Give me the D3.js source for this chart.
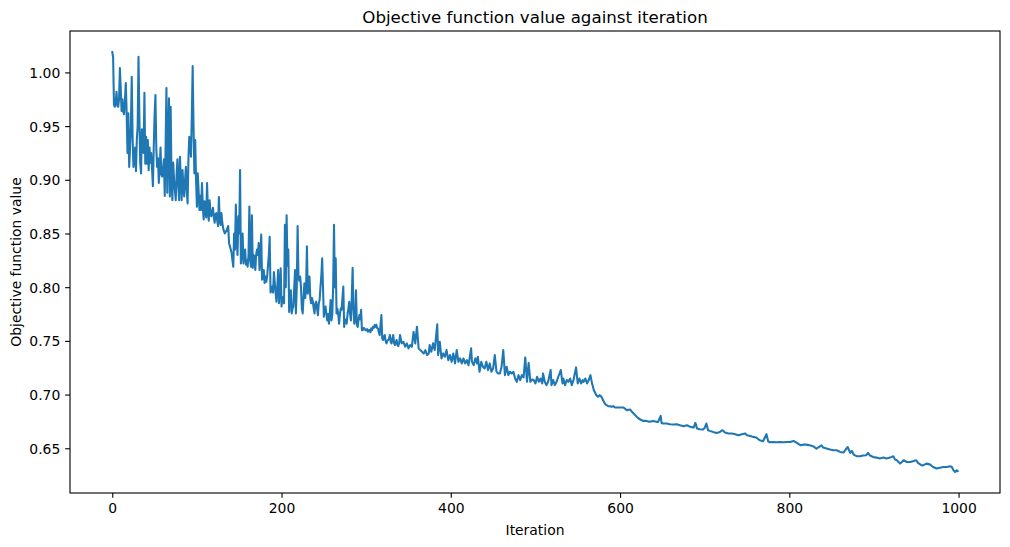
<!DOCTYPE html>
<html>
<head>
<meta charset="utf-8">
<script src="https://cdn.jsdelivr.net/npm/d3@7/dist/d3.min.js"></script>
<style>
  html, body { margin: 0; padding: 0; background: #fff; }
  svg text { font-family: "DejaVu Sans", sans-serif; fill: #000; }
</style>
</head>
<body>
<svg id="chart" width="1010" height="547"></svg>
<script>
// ---- data ----
const iterations = [
  0,1,2,3,4,5,6,7,8,9,10,11,12,13,14,15,16,17,18,19,
  20,21,22,23,24,25,26,27,28,29,30,31,32,33,34,35,36,37,38,39,
  40,41,42,43,44,45,46,47,48,49,50,51,52,53,54,55,56,57,58,59,
  60,61,62,63,64,65,66,67,68,69,70,71,72,73,74,75,76,77,78,79,
  80,81,82,83,84,85,86,87,88,89,90,91,92,93,94,95,96,97,98,99,
  100,101,102,103,104,105,106,107,108,109,110,111,112,113,114,115,116,117,118,119,
  120,121,122,123,124,125,126,127,128,129,130,131,132,133,134,135,136,137,138,139,
  140,141,142,143,144,145,146,147,148,149,150,151,152,153,154,155,156,157,158,159,
  160,161,162,163,164,165,166,167,168,169,170,171,172,173,174,175,176,177,178,179,
  180,181,182,183,184,185,186,187,188,189,190,191,192,193,194,195,196,197,198,199,
  200,201,202,203,204,205,206,207,208,209,210,211,212,213,214,215,216,217,218,219,
  220,221,222,223,224,225,226,227,228,229,230,231,232,233,234,235,236,237,238,239,
  240,241,242,243,244,245,246,247,248,249,250,251,252,253,254,255,256,257,258,259,
  260,261,262,263,264,265,266,267,268,269,270,271,272,273,274,275,276,277,278,279,
  280,281,282,283,284,285,286,287,288,289,290,291,292,293,294,295,296,297,298,299,
  300,301,302,303,304,305,306,307,308,309,310,311,312,313,314,315,316,317,318,319,
  320,321,322,323,324,325,326,327,328,329,330,331,332,333,334,335,336,337,338,339,
  340,342,344,346,348,350,352,354,356,358,360,362,364,366,368,370,372,374,375,377,
  379,381,384,385,387,389,391,393,395,397,399,401,403,405,407,409,411,413,415,417,
  419,421,424,425,427,429,431,432,434,436,438,440,442,444,446,448,450,452,454,456,
  458,460,462,464,466,468,470,472,474,476,478,480,482,484,486,488,490,492,494,496,
  498,500,502,504,506,508,509,511,513,515,518,519,521,523,525,527,530,532,533,535,
  537,539,541,543,545,548,550,552,554,556,557,559,561,563,565,567,568,569,570,572,
  574,576,578,580,582,584,586,588,590,592,594,596,600,604,608,612,614,616,618,620,
  622,624,626,627,631,635,639,643,645,648,649,651,655,659,663,667,671,675,679,683,
  687,689,691,694,698,700,702,704,706,710,714,718,721,724,728,732,736,740,744,748,
  750,754,757,761,765,769,773,775,777,781,785,789,793,797,801,805,809,813,817,820,
  824,828,832,838,840,844,848,852,856,860,864,869,872,874,876,880,884,887,891,893,
  895,899,903,907,911,915,919,923,925,927,931,935,939,943,947,950,952,956,958,962,
  966,970,974,978,982,986,990,992,994,996,998,999
];

const objectiveValues = [
  1.019,1.014,0.970,0.968,0.971,0.982,0.969,0.968,0.975,1.004,0.985,0.964,0.975,0.963,0.961,0.975,0.990,0.962,0.925,0.962,
  0.912,0.930,0.950,0.996,0.940,0.912,0.919,0.930,0.908,0.937,0.950,1.0145,0.960,0.916,0.906,0.947,0.930,0.925,0.981,0.915,
  0.940,0.915,0.937,0.909,0.930,0.916,0.925,0.910,0.894,0.930,0.960,0.979,0.930,0.912,0.920,0.897,0.910,0.930,0.905,0.903,
  0.910,0.919,0.885,0.930,0.9855,0.888,0.930,0.976,0.8845,0.968,0.900,0.881,0.916,0.900,0.890,0.881,0.905,0.919,0.895,0.881,
  0.9215,0.900,0.881,0.909,0.895,0.8845,0.900,0.912,0.890,0.878,0.920,0.940,0.935,0.9215,0.960,1.006,0.950,0.906,0.937,0.900,
  0.875,0.906,0.890,0.872,0.885,0.872,0.897,0.875,0.863,0.880,0.870,0.865,0.897,0.872,0.862,0.881,0.870,0.866,0.870,0.874,
  0.865,0.860,0.868,0.869,0.862,0.857,0.884,0.862,0.858,0.869,0.860,0.855,0.852,0.850,0.852,0.852,0.855,0.857,0.841,0.838,
  0.835,0.832,0.825,0.819,0.850,0.835,0.877,0.844,0.830,0.866,0.850,0.909,0.822,0.835,0.850,0.822,0.830,0.835,0.821,0.825,
  0.819,0.830,0.875,0.825,0.819,0.867,0.818,0.830,0.8285,0.816,0.830,0.835,0.830,0.841,0.816,0.830,0.849,0.807,0.810,0.816,
  0.804,0.810,0.805,0.810,0.820,0.830,0.847,0.795,0.800,0.8005,0.795,0.814,0.804,0.795,0.7865,0.800,0.816,0.785,0.800,0.8176,
  0.782,0.790,0.791,0.785,0.858,0.800,0.867,0.820,0.835,0.777,0.790,0.797,0.7756,0.780,0.782,0.800,0.816,0.7756,0.800,0.857,
  0.810,0.806,0.810,0.800,0.780,0.7756,0.790,0.8036,0.790,0.800,0.838,0.794,0.800,0.810,0.790,0.785,0.790,0.7865,0.780,0.7756,
  0.785,0.7865,0.780,0.774,0.785,0.788,0.800,0.810,0.827,0.800,0.7725,0.780,0.782,0.775,0.769,0.775,0.766,0.775,0.788,0.769,
  0.775,0.800,0.858,0.800,0.827,0.7756,0.780,0.775,0.766,0.775,0.780,0.779,0.790,0.8005,0.763,0.770,0.769,0.766,0.775,0.780,
  0.7865,0.775,0.769,0.790,0.818,0.780,0.766,0.770,0.797,0.765,0.763,0.770,0.774,0.770,0.779,0.760,0.760,0.762,0.7616,0.760,
  0.760,0.761,0.7585,0.760,0.760,0.758,0.7616,0.760,0.763,0.762,0.7647,0.763,0.765,0.762,0.7616,0.758,0.7554,0.765,0.774,0.752,
  0.7508,0.754,0.7554,0.750,0.7477,0.750,0.7508,0.752,0.7554,0.749,0.7477,0.752,0.7554,0.748,0.7461,0.749,0.7508,0.746,0.7452,0.748,
  0.7554,0.7477,0.7492,0.7445,0.7477,0.7430,0.7461,0.7445,0.7585,0.7477,0.7632,0.7430,0.7414,0.7399,0.7383,0.7414,0.7368,0.7383,0.7461,0.7399,
  0.7477,0.7414,0.7654,0.7368,0.7492,0.7337,0.7383,0.7352,0.7414,0.7321,0.7368,0.7305,0.7383,0.7290,0.7414,0.7305,0.7337,0.7290,0.7337,0.7290,
  0.7321,0.7274,0.7430,0.7305,0.7274,0.7337,0.7290,0.7352,0.7212,0.7305,0.7259,0.7243,0.7305,0.7228,0.7290,0.7212,0.7243,0.7368,0.7212,0.7197,
  0.7197,0.7259,0.7414,0.7181,0.7259,0.7181,0.7212,0.7197,0.7212,0.7150,0.7119,0.7181,0.7135,0.7181,0.7160,0.7346,0.7119,0.7296,0.7119,0.7140,
  0.7135,0.7104,0.7166,0.7119,0.7150,0.7104,0.7197,0.7119,0.7088,0.7119,0.7228,0.7088,0.7135,0.7088,0.7119,0.7166,0.7228,0.7104,0.7150,0.7088,
  0.7135,0.7119,0.7150,0.7088,0.7135,0.7253,0.7104,0.7150,0.7104,0.7135,0.7119,0.7150,0.7104,0.7135,0.7181,0.7100,0.7072,0.7041,0.7026,0.6994,
  0.6979,0.6994,0.6979,0.6948,0.6917,0.6901,0.6892,0.6892,0.6886,0.6892,0.6880,0.6880,0.6880,0.6880,0.6855,0.6861,0.6839,0.6824,0.6808,0.6792,
  0.6777,0.6768,0.6761,0.6755,0.6755,0.6746,0.6755,0.6746,0.6746,0.6801,0.6736,0.6730,0.6730,0.6724,0.6721,0.6724,0.6714,0.6705,0.6714,0.6699,
  0.6693,0.6736,0.6684,0.6677,0.6674,0.6689,0.6730,0.6668,0.6662,0.6652,0.6643,0.6652,0.6668,0.6646,0.6637,0.6637,0.6631,0.6621,0.6631,0.6637,
  0.6621,0.6615,0.6606,0.6600,0.6575,0.6565,0.6631,0.6565,0.6556,0.6559,0.6556,0.6559,0.6556,0.6559,0.6559,0.6568,0.6550,0.6528,0.6534,0.6534,
  0.6528,0.6519,0.6497,0.6528,0.6506,0.6497,0.6488,0.6481,0.6481,0.6466,0.6460,0.6512,0.6457,0.6475,0.6441,0.6425,0.6425,0.6432,0.6435,0.6457,
  0.6435,0.6419,0.6413,0.6404,0.6413,0.6404,0.6413,0.6425,0.6394,0.6388,0.6357,0.6388,0.6372,0.6372,0.6382,0.6388,0.6363,0.6342,0.6341,0.6357,
  0.6350,0.6326,0.6311,0.6319,0.6326,0.6326,0.6332,0.6326,0.6295,0.6279,0.6295,0.6288
];

const xTickValues = [0, 200, 400, 600, 800, 1000];
const yTickValues = [0.65, 0.70, 0.75, 0.80, 0.85, 0.90, 0.95, 1.00];
const titleText = "Objective function value against iteration";
const xLabelText = "Iteration";
const yLabelText = "Objective function value";

// ---- layout ----
const svg = d3.select("#chart");
const plot = { left: 70, right: 1000, top: 31, bottom: 493 };
const tickLen = 4.86, tickPad = 4.86;
const lineColor = "#1f77b4";

const points = iterations.map((it, i) => ({ it, v: objectiveValues[i] }));

// matplotlib-style 5% margins
const [xMin, xMax] = d3.extent(iterations);
const [yMin, yMax] = d3.extent(objectiveValues);
const xPad = (xMax - xMin) * 0.05, yPad = (yMax - yMin) * 0.05;

const x = d3.scaleLinear().domain([xMin - xPad, xMax + xPad]).range([plot.left, plot.right]);
const y = d3.scaleLinear().domain([yMin - yPad, yMax + yPad]).range([plot.bottom, plot.top]);

// line
const line = d3.line().x(d => x(d.it)).y(d => y(d.v));
svg.append("path")
  .datum(points)
  .attr("d", line)
  .attr("fill", "none")
  .attr("stroke", lineColor)
  .attr("stroke-width", 2.08)
  .attr("stroke-linejoin", "round")
  .attr("stroke-linecap", "square");

// axes
const xAxis = d3.axisBottom(x).tickValues(xTickValues).tickFormat(d3.format("d"))
  .tickSizeInner(tickLen).tickSizeOuter(0).tickPadding(tickPad);
const yAxis = d3.axisLeft(y).tickValues(yTickValues).tickFormat(d3.format(".2f"))
  .tickSizeInner(tickLen).tickSizeOuter(0).tickPadding(tickPad);

const gx = svg.append("g").attr("transform", `translate(0,${plot.bottom})`).call(xAxis);
const gy = svg.append("g").attr("transform", `translate(${plot.left},0)`).call(yAxis);
[gx, gy].forEach(g => {
  g.select(".domain").remove();
  g.selectAll(".tick line").attr("stroke", "#000").attr("stroke-width", 1.11);
  g.selectAll(".tick text").attr("font-size", "13.9px").attr("font-family", "DejaVu Sans").attr("fill", "#000");
});
gy.selectAll(".tick text").attr("dy", "0.36em");

// spines
svg.append("rect")
  .attr("x", plot.left).attr("y", plot.top)
  .attr("width", plot.right - plot.left).attr("height", plot.bottom - plot.top)
  .attr("fill", "none").attr("stroke", "#000").attr("stroke-width", 1.11);

// title & labels
svg.append("text")
  .attr("x", (plot.left + plot.right) / 2).attr("y", 23)
  .attr("text-anchor", "middle").attr("font-size", "16.67px")
  .text(titleText);

svg.append("text")
  .attr("x", (plot.left + plot.right) / 2).attr("y", 535)
  .attr("text-anchor", "middle").attr("font-size", "13.9px")
  .text(xLabelText);

svg.append("text")
  .attr("transform", `translate(21,${(plot.top + plot.bottom) / 2}) rotate(-90)`)
  .attr("text-anchor", "middle").attr("font-size", "13.9px")
  .text(yLabelText);
</script>
</body>
</html>
